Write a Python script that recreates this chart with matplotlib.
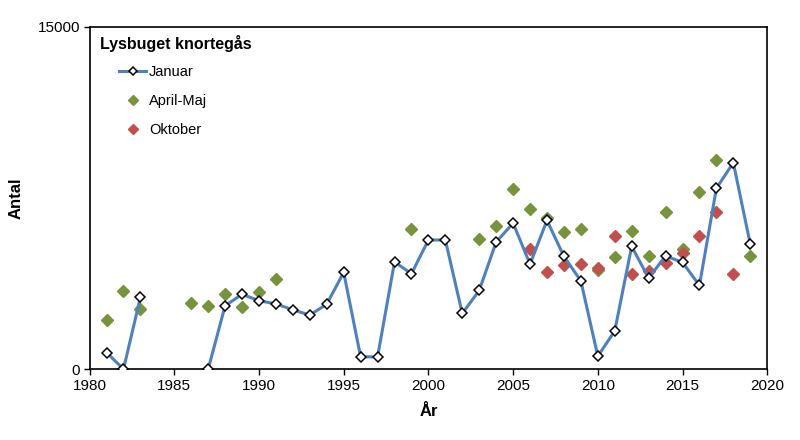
import numpy as np
import matplotlib.pyplot as plt

plt.rcParams['font.family'] = ['Liberation Sans', 'DejaVu Sans']

# Januar counts (NaN = no count)
jan_years = list(range(1981, 2020))
jan_vals = [730, 0, 3150, np.nan, np.nan, np.nan, 0, 2780, 3280, 3000,
            2860, 2600, 2370, 2850, 4240, 540, 540, 4700, 4180, 5660,
            5660, 2440, 3450, 5570, 6400, 4600, 6520, 4940, 3870, 570,
            1670, 5380, 3990, 4960, 4680, 3670, 7920, 9050, 5480]

# April-Maj counts
apr_years = [1981, 1982, 1983, 1986, 1987, 1988, 1989, 1990, 1991, 1999,
             2003, 2004, 2005, 2006, 2007, 2008, 2009, 2010, 2011, 2012,
             2013, 2014, 2015, 2016, 2017, 2019]
apr_vals = [2150, 3430, 2630, 2920, 2780, 3290, 2730, 3390, 3950, 6150,
            5700, 6290, 7890, 7000, 6620, 6010, 6150, 4340, 4930, 6040,
            4980, 6900, 5280, 7750, 9170, 4980]

# Oktober counts
okt_years = [2006, 2007, 2008, 2009, 2010, 2011, 2012, 2013, 2014, 2015,
             2016, 2017, 2018]
okt_vals = [5260, 4250, 4560, 4600, 4440, 5830, 4180, 4300, 4640, 5090,
            5850, 6890, 4180]

fig = plt.figure(figsize=(8, 4.4), dpi=100)
ax = fig.add_axes([0.112, 0.161, 0.847, 0.778])

ax.plot(jan_years, jan_vals, color='#4F81BD', lw=2.2, marker='D', ms=5.5,
        mfc='white', mec='black', mew=1.1, label='Januar', zorder=3)
ax.plot(apr_years, apr_vals, ls='none', marker='D', ms=6.5,
        color='#77933C', label='April-Maj', zorder=2)
ax.plot(okt_years, okt_vals, ls='none', marker='D', ms=6.5,
        color='#C0504D', label='Oktober', zorder=2)

ax.set_xlim(1980, 2020)
ax.set_ylim(0, 15000)
ax.set_xticks(range(1980, 2021, 5))
ax.set_yticks([0, 15000])
ax.tick_params(direction='out', length=4, width=1, labelsize=11, pad=3)
for s in ax.spines.values():
    s.set_linewidth(1.2)

ax.set_xlabel('År', fontsize=12, fontweight='bold', labelpad=8)
ax.set_ylabel('Antal', fontsize=12, fontweight='bold', labelpad=10)

ax.text(0.0155, 0.95, 'Lysbuget knortegås', transform=ax.transAxes,
        fontsize=11.5, fontweight='bold', va='center', ha='left')
ax.legend(loc='upper left', bbox_to_anchor=(0.0435, 0.889), frameon=False,
          fontsize=10.5, borderpad=0, borderaxespad=0, labelspacing=1.05,
          handlelength=1.85, handletextpad=0.2, markerscale=0.75)

fig.savefig('out.png', dpi=100)
